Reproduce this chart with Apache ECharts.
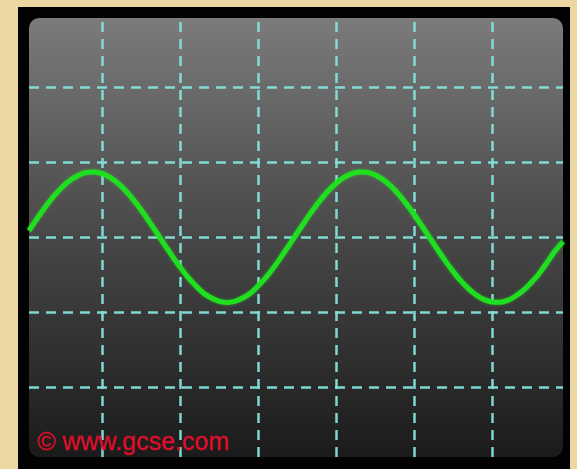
<!DOCTYPE html>
<html>
<head>
<meta charset="utf-8">
<script src="https://cdn.jsdelivr.net/npm/echarts@6/dist/echarts.min.js"></script>
<style>
  html, body { margin: 0; padding: 0; background: #ecd6a2; }
  #chart { width: 577px; height: 469px; }
</style>
</head>
<body>
<div id="chart"></div>
<script>
// Horizontal positions in grid divisions (0 = first vertical grid line)
const waveX = [-0.94, -0.9, -0.8, -0.7, -0.6, -0.5, -0.4, -0.3, -0.2, -0.1,
  0.0, 0.1, 0.2, 0.3, 0.4, 0.5, 0.6, 0.7, 0.8, 0.9,
  1.0, 1.1, 1.2, 1.3, 1.4, 1.5, 1.6, 1.7, 1.8, 1.9,
  2.0, 2.1, 2.2, 2.3, 2.4, 2.5, 2.6, 2.7, 2.8, 2.9,
  3.0, 3.1, 3.2, 3.3, 3.4, 3.5, 3.6, 3.7, 3.8, 3.9,
  4.0, 4.1, 4.2, 4.3, 4.4, 4.5, 4.6, 4.7, 4.8, 4.9,
  5.0, 5.1, 5.2, 5.3, 5.4, 5.5, 5.6, 5.7, 5.8, 5.91];
// Trace height in vertical divisions (0 = centre line)
const waveY = [0.087, 0.149, 0.302, 0.444, 0.572, 0.681, 0.767, 0.829, 0.863, 0.869,
  0.846, 0.795, 0.719, 0.619, 0.497, 0.361, 0.211, 0.055, -0.102, -0.256,
  -0.403, -0.536, -0.649, -0.748, -0.812, -0.856, -0.870, -0.856, -0.812, -0.748,
  -0.649, -0.536, -0.403, -0.256, -0.102, 0.055, 0.211, 0.360, 0.497, 0.618,
  0.718, 0.795, 0.846, 0.869, 0.863, 0.829, 0.767, 0.681, 0.572, 0.444,
  0.302, 0.149, -0.008, -0.165, -0.316, -0.456, -0.584, -0.690, -0.774, -0.833,
  -0.865, -0.868, -0.843, -0.788, -0.710, -0.607, -0.491, -0.346, -0.195, -0.06];
const gridXLines = [0, 1, 2, 3, 4, 5];
const gridYLines = [-2, -1, 0, 1, 2];
const watermark = '© www.gcse.com';

const chart = echarts.init(document.getElementById('chart'), null, { renderer: 'canvas' });

const dashStyle = { color: '#84e2da', width: 2.5, type: [10, 7], opacity: 0.95 };

const option = {
  backgroundColor: '#ecd6a2',
  animation: false,
  grid: { left: 29, top: 18, width: 534, height: 439, containLabel: false },
  xAxis: { type: 'value', min: -0.94, max: 5.91, show: false },
  yAxis: { type: 'value', min: -2.93, max: 2.92, show: false },
  graphic: [
    { type: 'rect', z: 0, shape: { x: 18, y: 7, width: 552, height: 470 }, style: { fill: '#020202' } },
    { type: 'rect', z: 1, shape: { x: 29, y: 18, width: 534, height: 439, r: 10 },
      style: { fill: new echarts.graphic.LinearGradient(0, 0, 0, 1, [
        { offset: 0, color: '#7b7b7b' },
        { offset: 0.5, color: '#474747' },
        { offset: 1, color: '#1b1b1b' }
      ]) } },
    { type: 'text', z: 100, left: 37, top: 430,
      style: { text: watermark, font: '25px "Liberation Sans", Arial, sans-serif', fill: '#e0102a',
        stroke: 'rgba(225,16,42,0.55)', lineWidth: 0.8,
        shadowColor: 'rgba(255,0,30,0.7)', shadowBlur: 4 } }
  ],
  series: [
    {
      type: 'line', z: 2, data: [], silent: true,
      markLine: {
        silent: true, symbol: ['none', 'none'], label: { show: false },
        lineStyle: dashStyle, animation: false,
        data: gridXLines.map(v => ({ xAxis: v })).concat(gridYLines.map(v => ({ yAxis: v })))
      }
    },
    {
      type: 'line', z: 5, smooth: 0.3, showSymbol: false, silent: true,
      data: waveX.map((x, i) => [x, waveY[i]]),
      lineStyle: { color: '#1fe01f', width: 5, shadowColor: 'rgba(40,255,40,0.5)', shadowBlur: 3 },
      clip: true
    }
  ]
};
chart.setOption(option);
</script>
</body>
</html>
